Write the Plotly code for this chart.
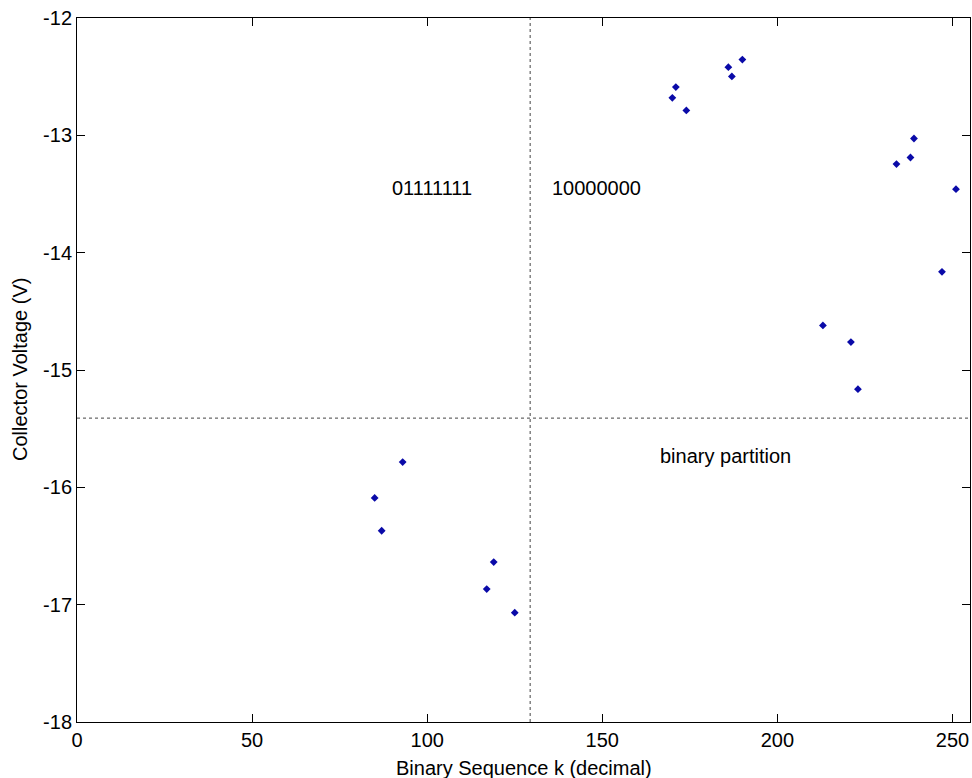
import plotly.graph_objects as go

# Data
k_values = [85, 87, 93, 117, 119, 125,
            170, 171, 174, 186, 187, 190,
            213, 221, 223, 234, 238, 239, 247, 251]
voltages = [-16.09, -16.37, -15.785, -16.867, -16.637, -17.068,
            -12.680, -12.589, -12.788, -12.419, -12.498, -12.354,
            -14.620, -14.762, -15.163, -13.245, -13.189, -13.027, -14.163, -13.459]

partition_x = 129.4
partition_y = -15.41

text_labels = ["01111111", "10000000", "binary partition"]
text_x = [89.3, 135.0, 166.0]
text_y = [-13.45, -13.45, -15.73]

x_ticks = [0, 50, 100, 150, 200, 250]
y_ticks = [-18, -17, -16, -15, -14, -13, -12]

FONT = "Liberation Sans, Arial, sans-serif"

fig = go.Figure()
fig.add_trace(go.Scatter(
    x=k_values, y=voltages, mode="markers",
    marker=dict(symbol="diamond", size=6, color="#0a0aa8"),
    showlegend=False,
))

fig.add_shape(type="line", xref="x", yref="paper", x0=partition_x, x1=partition_x, y0=0, y1=1,
              line=dict(color="#444444", width=1, dash="dot"))
fig.add_shape(type="line", xref="paper", yref="y", x0=0, x1=1, y0=partition_y, y1=partition_y,
              line=dict(color="#444444", width=1, dash="dot"))

for t, tx, ty in zip(text_labels, text_x, text_y):
    fig.add_annotation(x=tx, y=ty, text=t, showarrow=False, xanchor="left", yanchor="middle",
                       font=dict(family=FONT, size=20, color="black"))

fig.add_annotation(xref="paper", yref="paper", x=0.5, y=0, yshift=-46, text="Binary Sequence k (decimal)",
                   showarrow=False, xanchor="center", yanchor="middle",
                   font=dict(family=FONT, size=20, color="black"))
fig.add_annotation(xref="paper", yref="paper", x=0, y=0.5, xshift=-57, text="Collector Voltage (V)",
                   textangle=-90, showarrow=False, xanchor="center", yanchor="middle",
                   font=dict(family=FONT, size=20, color="black"))

axis_common = dict(showline=True, linecolor="black", linewidth=1, mirror="ticks",
                   ticks="inside", ticklen=8, tickcolor="black", tickwidth=1,
                   showgrid=False, zeroline=False,
                   tickfont=dict(family=FONT, size=20, color="black"))

fig.update_xaxes(range=[0, 255], tickvals=x_ticks, **axis_common)
fig.update_yaxes(range=[-18, -12], tickvals=y_ticks, ticktext=[str(v) for v in y_ticks], **axis_common)

fig.update_layout(
    width=972, height=778,
    margin=dict(l=77, r=2, t=18, b=56, autoexpand=False),
    paper_bgcolor="white", plot_bgcolor="white",
    font=dict(family=FONT, size=20, color="black"),
)

fig.write_html("out.html")
